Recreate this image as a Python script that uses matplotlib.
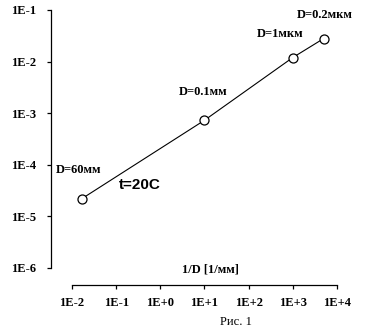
import matplotlib.pyplot as plt
from matplotlib.ticker import FixedLocator, NullLocator

# diffusion data vs inverse grain size
inv_d = [1 / 60, 10, 1000, 5000]          # 1/D, 1/мм
value = [2.2e-5, 7.3e-4, 1.2e-2, 2.8e-2]
labels = ['D=60мм', 'D=0.1мм', 'D=1мкм', 'D=0.2мкм']
label_off = [(-2, 21), (-1, 20), (-9, 17), (1, 17)]   # points

xticks = [1e-2, 1e-1, 1e0, 1e1, 1e2, 1e3, 1e4]
xtick_labels = ['1E-2', '1E-1', '1E+0', '1E+1', '1E+2', '1E+3', '1E+4']
yticks = [1e-6, 1e-5, 1e-4, 1e-3, 1e-2, 1e-1]
ytick_labels = ['1E-6', '1E-5', '1E-4', '1E-3', '1E-2', '1E-1']

serif = 'Liberation Serif'

fig = plt.figure(figsize=(3.65, 3.29), dpi=100)
ax = fig.add_axes([51 / 365, 61 / 329, 286 / 365, 258 / 329])

ax.plot(inv_d, value, color='black', lw=0.8, marker='o', ms=6.5,
        mfc='white', mec='black', mew=0.9, zorder=3)

ax.set_xscale('log')
ax.set_yscale('log')
ax.set_xlim(10 ** -2.475, 1e4)
ax.set_ylim(1e-6, 1e-1)

for s in ['top', 'right']:
    ax.spines[s].set_visible(False)
ax.spines['bottom'].set_position(('outward', 12.2))
ax.spines['bottom'].set_bounds(1e-2, 1e4)
ax.spines['left'].set_bounds(1e-6, 1e-1)
for s in ['bottom', 'left']:
    ax.spines[s].set_linewidth(0.9)

ax.xaxis.set_major_locator(FixedLocator(xticks))
ax.xaxis.set_minor_locator(NullLocator())
ax.yaxis.set_major_locator(FixedLocator(yticks))
ax.yaxis.set_minor_locator(NullLocator())
ax.set_xticklabels(xtick_labels, fontfamily=serif, fontweight='bold', fontsize=9)
ax.set_yticklabels(ytick_labels, fontfamily=serif, fontweight='bold', fontsize=9)
ax.tick_params(axis='both', length=3, width=0.9, direction='out')
ax.tick_params(axis='y', pad=8)
ax.tick_params(axis='x', pad=6)

for x, y, t, off in zip(inv_d, value, labels, label_off):
    ax.annotate(t, (x, y), xytext=off, textcoords='offset points',
                ha='center', va='center', fontfamily=serif,
                fontweight='bold', fontsize=9)

ax.annotate('t=20C', (inv_d[0], value[0]), xytext=(42, 10),
            textcoords='offset points', ha='center', va='center',
            fontfamily='Liberation Sans', fontweight='bold', fontsize=11)

fig.text(210 / 365, 1 - 270 / 329, '1/D [1/мм]', ha='center', va='center',
         fontfamily=serif, fontweight='bold', fontsize=9)
fig.text(236 / 365, 1 - 322 / 329, 'Рис. 1', ha='center', va='center',
         fontfamily=serif, fontsize=9)

fig.savefig('out.png', dpi=100)
